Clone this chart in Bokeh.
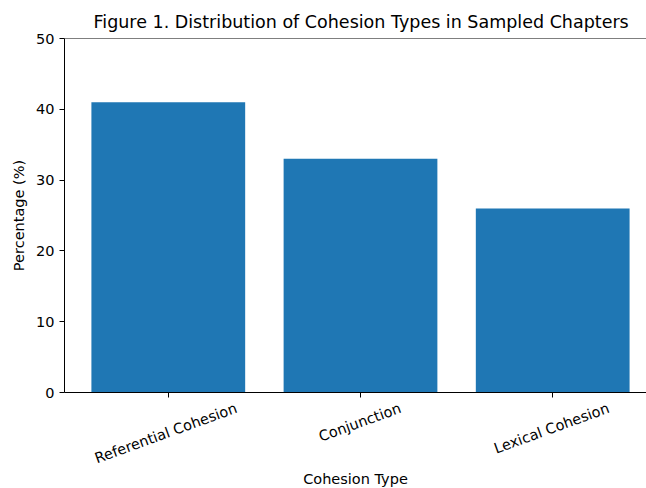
import math
from bokeh.plotting import figure
from bokeh.models import Range1d, FixedTicker, LinearAxis, Span
from bokeh.embed import file_html
from bokeh.resources import INLINE

categories = ["Referential Cohesion", "Conjunction", "Lexical Cohesion"]
percentages = [41, 33, 26]
y_ticks = [0, 10, 20, 30, 40, 50]

positions = list(range(len(categories)))

FONT = "DejaVu Sans"
LABEL_SIZE = "14.5px"
FRAME_W = 582
X_START, X_END = -0.54, 2.488
px_per_unit = FRAME_W / (X_END - X_START)
# horizontal shift (px) so the right-anchored rotated labels appear centred on their ticks
label_shift_px = [68, 40, 56]
label_ticks = [round(pos + s / px_per_unit, 3) for pos, s in zip(positions, label_shift_px)]

p = figure(
    frame_width=FRAME_W, frame_height=354,
    min_border_left=64, min_border_right=0, min_border_top=38, min_border_bottom=90,
    output_backend="svg", toolbar_location=None,
    x_range=Range1d(X_START, X_END), y_range=Range1d(0, 50),
    title="Figure 1. Distribution of Cohesion Types in Sampled Chapters",
)

p.vbar(x=positions, top=percentages, width=0.8, color="#1f77b4", line_color=None)

p.title.align = "left"
p.title.offset = 29
p.title.standoff = 14
p.title.text_font = FONT
p.title.text_font_size = "17.5px"
p.title.text_font_style = "normal"
p.title.text_color = "black"

p.xgrid.visible = False
p.ygrid.visible = False
p.outline_line_color = None
p.background_fill_color = "white"
p.border_fill_color = "white"
p.add_layout(Span(location=50, dimension="width", line_color="black", line_width=1))

xa = p.xaxis[0]
xa.ticker = FixedTicker(ticks=positions)
xa.major_label_overrides = {i: "" for i in positions}
xa.major_label_standoff = 0
xa.major_label_text_font_size = "0px"

ya = p.yaxis[0]
ya.ticker = FixedTicker(ticks=y_ticks)
ya.axis_label = "Percentage (%)"
ya.axis_label_standoff = 6
ya.major_label_text_font_size = LABEL_SIZE

for ax in (xa, ya):
    ax.axis_line_color = "black"
    ax.axis_line_width = 1
    ax.major_tick_line_color = "black"
    ax.major_tick_out = 5
    ax.major_tick_in = 0
    ax.minor_tick_line_color = None
    ax.major_label_text_font = FONT
    ax.major_label_text_color = "black"
    ax.axis_label_text_font = FONT
    ax.axis_label_text_font_size = LABEL_SIZE
    ax.axis_label_text_font_style = "normal"
    ax.axis_label_text_color = "black"

xl = LinearAxis(
    ticker=FixedTicker(ticks=label_ticks),
    major_label_overrides={t: c for t, c in zip(label_ticks, categories)},
    major_label_orientation=math.radians(20),
    major_label_standoff=10,
    axis_line_color=None,
    major_tick_line_color=None,
    minor_tick_line_color=None,
    major_tick_out=0, major_tick_in=0,
    major_label_text_font=FONT,
    major_label_text_font_size=LABEL_SIZE,
    major_label_text_color="black",
    axis_label="Cohesion Type",
    axis_label_standoff=-6,
    axis_label_text_font=FONT,
    axis_label_text_font_size=LABEL_SIZE,
    axis_label_text_font_style="normal",
    axis_label_text_color="black",
)
p.add_layout(xl, "below")

with open("out.html", "w") as f:
    f.write(file_html(p, INLINE))
